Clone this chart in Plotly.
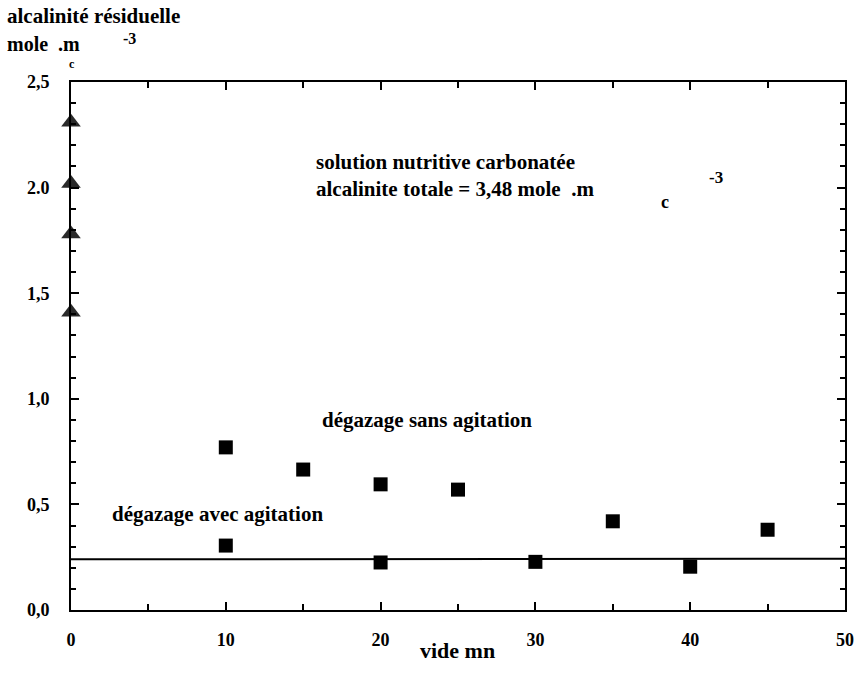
import plotly.graph_objects as go

# Data
tri_x = [0, 0, 0, 0]
tri_y = [2.31, 2.02, 1.78, 1.41]

sans_x = [10, 15, 20, 25, 35, 45]
sans_y = [0.77, 0.665, 0.595, 0.57, 0.42, 0.38]

avec_x = [10, 20, 30, 40]
avec_y = [0.305, 0.225, 0.228, 0.205]

line_x = [0, 50]
line_y = [0.24, 0.243]

y_tickvals = [0, 0.5, 1.0, 1.5, 2.0, 2.5]
y_ticktext = ["0,0", "0,5", "1,0", "1,5", "2.0", "2,5"]
x_tickvals = [0, 10, 20, 30, 40, 50]
x_ticktext = ["0", "10", "20", "30", "40", "50"]

FONT = "Liberation Serif"

fig = go.Figure()
fig.add_trace(go.Scatter(x=line_x, y=line_y, mode="lines",
                         line=dict(color="black", width=2), showlegend=False))
fig.add_trace(go.Scatter(x=tri_x, y=tri_y, mode="markers",
                         marker=dict(symbol="triangle-up", size=17, color="#2a2a2a"),
                         cliponaxis=False, showlegend=False))
fig.add_trace(go.Scatter(x=sans_x, y=sans_y, mode="markers",
                         marker=dict(symbol="square", size=14, color="black"),
                         showlegend=False))
fig.add_trace(go.Scatter(x=avec_x, y=avec_y, mode="markers",
                         marker=dict(symbol="square", size=14, color="black"),
                         showlegend=False))

axis_common = dict(showline=True, linecolor="black", linewidth=2, mirror="allticks",
                   ticks="inside", tickcolor="black", tickwidth=1.5, showgrid=False,
                   zeroline=False, tickfont=dict(family=FONT, size=18, color="black"))

fig.update_xaxes(range=[0, 50], tickvals=x_tickvals, ticktext=["<b>%s</b>" % t for t in x_ticktext],
                 ticklen=8,
                 minor=dict(dtick=5, tick0=0, ticklen=6, ticks="inside", tickcolor="black",
                            tickwidth=1.5, showgrid=False),
                 ticklabelstandoff=12, **axis_common)
fig.update_yaxes(range=[0, 2.5], tickvals=y_tickvals, ticktext=["<b>%s</b>" % t for t in y_ticktext],
                 ticklen=8,
                 minor=dict(dtick=0.1, tick0=0, ticklen=5, ticks="inside", tickcolor="black",
                            tickwidth=1.5, showgrid=False),
                 ticklabelstandoff=16, **axis_common)

W, H = 866, 691
L, R, T, B = 71, 14, 82, 81
pw, ph = W - L - R, H - T - B

def px(xp, yp, text, size=20, xanchor="left", yanchor="middle"):
    fig.add_annotation(text=text, x=(xp - L) / pw, y=(H - B - yp) / ph,
                       xref="paper", yref="paper", xanchor=xanchor, yanchor=yanchor,
                       showarrow=False, font=dict(family=FONT, size=size, color="black"))

px(4, 16, "<b>alcalinité résiduelle</b>", 21)
px(4, 44, "<b>mole  .m</b>", 20)
px(121, 38, "<b>-3</b>", 16)
px(67, 64, "<b>c</b>", 12)
px(316, 162, "<b>solution nutritive carbonatée</b>", 21)
px(316, 189, "<b>alcalinite totale = 3,48 mole  .m</b>", 21)
px(713, 178, "<b>-3</b>", 17)
px(664, 202, "<b>c</b>", 18)
px(322, 420, "<b>dégazage sans agitation</b>", 21)
px(110, 514, "<b>dégazage avec agitation</b>", 21)
px(461, 650, "<b>vide mn</b>", 22, xanchor="center")

fig.update_layout(width=W, height=H, margin=dict(l=L, r=R, t=T, b=B),
                  plot_bgcolor="white", paper_bgcolor="white",
                  font=dict(family=FONT, color="black"))

fig.write_html("out.html")
